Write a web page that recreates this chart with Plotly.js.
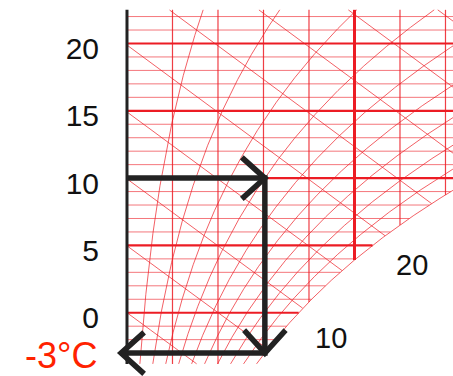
<!DOCTYPE html>
<html><head><meta charset="utf-8">
<script src="https://cdn.plot.ly/plotly-3.0.1.min.js"></script>
<style>html,body{margin:0;padding:0;background:#fff;}#chart{width:453px;height:376px;}</style>
</head><body><div id="chart"></div>
<script>
// ---- data ----
const isotherms = [-3,-2,-1,0,1,2,3,4,5,6,7,8,9,10,11,12,13,14,15,16,17,18,19,20,21,22]; // °C
const humidityLines = [1,2,3,4,5,6,7];                 // g/kg
const enthalpyLines = [0,5,10,15,20,25,30,35,40];      // kJ/kg
const rhLevels = [0.1,0.2,0.3,0.4,0.5,0.6,0.7,0.8,0.9,1.0];
const yTickValues = [0,5,10,15,20];
const yTickLabels = ['0','5','10','15','20'];
const enthalpyLabels = ['10','20'];
const enthalpyLabelX = [4.48, 6.26];
const enthalpyLabelT = [-1.88, 3.51];
const processX = [0, 3.03, 3.03, -0.13];
const processT = [10, 10, -3, -3];
const processLabel = '-3°C';
const processLabelT = -3;
const chartT = [-3.8, 22.5];
const chartXmax = 7.3;

// ---- psychrometrics ----
const P = 101.325;
function pSat(T){ return 0.61094*Math.exp(17.625*T/(T+243.04)); }
function xAt(T, phi){ const p = phi*pSat(T); return 622*p/(P-p); }
function tSat(x){ let lo=-40, hi=60; for(let i=0;i<60;i++){ const m=(lo+hi)/2; if(xAt(m,1)<x) lo=m; else hi=m; } return (lo+hi)/2; }
function tOfH(h, x){ return (h-2.501*x)/(1.006+0.00186*x); }

// ---- layout geometry ----
const W=453, H=376;
const xRange=[-2.791, 7.165], yRange=[-4.70, 23.23];
const pxX = W/(xRange[1]-xRange[0]), pxT = H/(yRange[1]-yRange[0]);

const RED='rgb(236,28,36)';
const traces=[];
function add(x,y,color,width){ traces.push({type:'scatter',mode:'lines',x:x,y:y,line:{color:color,width:width},connectgaps:false,hoverinfo:'skip'}); }

// relative humidity curves
rhLevels.forEach(phi=>{
  const xs=[], ys=[];
  for(let T=chartT[0]; T<=chartT[1]+1e-9; T+=0.05){
    const x=xAt(T,phi);
    if(x<=chartXmax){ xs.push(x); ys.push(T); } else { xs.push(null); ys.push(null); }
  }
  add(xs,ys,'rgba(236,28,36,0.7)',1);
});
// isenthalps
enthalpyLines.forEach(h=>{
  const xs=[], ys=[];
  for(let x=0; x<=chartXmax; x+=0.005){
    const T=tOfH(h,x);
    if(T>=chartT[0] && T<=chartT[1] && x<=xAt(T,1)){ xs.push(x); ys.push(T); }
    else { xs.push(null); ys.push(null); }
  }
  add(xs,ys,'rgba(236,28,36,0.7)',1);
});
// isotherms
isotherms.forEach(T=>{
  const thick = T%5===0;
  add([0, Math.min(xAt(T,1), chartXmax)],[T,T], thick?RED:'rgba(236,28,36,0.6)', thick?2.2:1);
});
// constant humidity ratio lines
humidityLines.forEach(x=>{
  const thick = x%5===0;
  add([x,x],[Math.max(tSat(x),chartT[0]), chartT[1]], thick?RED:'rgba(236,28,36,0.85)', thick?3:1.2);
});
// temperature axis line
add([0,0],[chartT[0],chartT[1]],'#222',3);

// process path with arrow heads
add(processX, processT, '#222', 5.5);
const cx=[], cy=[];
for(let i=1;i<processX.length;i++){
  const dx=(processX[i]-processX[i-1])*pxX, dy=(processT[i]-processT[i-1])*pxT;
  const L=Math.hypot(dx,dy), ux=-dx/L, uy=-dy/L;
  const a=42*Math.PI/180, len=31;
  [a,-a].forEach((ang,k)=>{
    const rx=ux*Math.cos(ang)-uy*Math.sin(ang), ry=ux*Math.sin(ang)+uy*Math.cos(ang);
    const px=processX[i]+rx*len/pxX, py=processT[i]+ry*len/pxT;
    if(k===0){ cx.push(px, processX[i]); cy.push(py, processT[i]); }
    else { cx.push(px, null); cy.push(py, null); }
  });
}
add(cx, cy, '#222', 5.5);

const annotations = enthalpyLabels.map((t,i)=>({xref:'x',yref:'y',x:enthalpyLabelX[i],y:enthalpyLabelT[i],text:t,showarrow:false,
  xanchor:'center',yanchor:'middle',font:{family:'Liberation Sans, Arial, sans-serif',size:29,color:'#111'}}));
annotations.push({xref:'x',yref:'y',x:-0.62,y:processLabelT-0.2,text:processLabel,showarrow:false,xanchor:'right',yanchor:'middle',
  font:{family:'Liberation Sans, Arial, sans-serif',size:36,color:'#ff2200'}});

const layout={
  width:W,height:H,margin:{l:0,r:0,t:0,b:0},paper_bgcolor:'#fff',plot_bgcolor:'#fff',showlegend:false,hovermode:false,
  xaxis:{range:xRange,visible:false,fixedrange:true},
  yaxis:{range:yRange,anchor:'free',position:127/W,showgrid:false,zeroline:false,showline:false,
    tickmode:'array',tickvals:yTickValues,ticktext:yTickLabels,ticks:'outside',ticklen:22,tickcolor:'rgba(0,0,0,0)',
    ticklabelshift:5,tickfont:{family:'Liberation Sans, Arial, sans-serif',size:30,color:'#111'},fixedrange:true},
  annotations:annotations
};
Plotly.newPlot('chart',traces,layout,{staticPlot:true,displayModeBar:false});
</script></body></html>
